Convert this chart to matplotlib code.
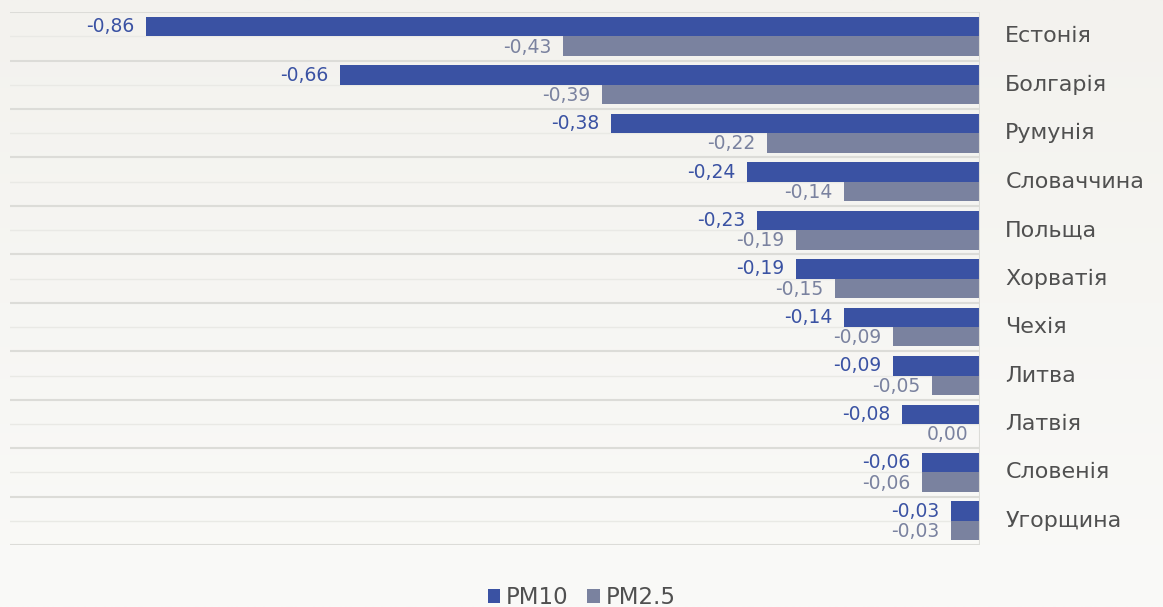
#!/usr/bin/env python3
"""Change in PM10 / PM2.5 by country, horizontal grouped bars with labels on the right."""

import matplotlib.pyplot as plt
import numpy as np

# -------- Data ------------------------------------------------------------ #

COUNTRIES = [
    "Естонія", "Болгарія", "Румунія", "Словаччина", "Польща", "Хорватія",
    "Чехія", "Литва", "Латвія", "Словенія", "Угорщина",
]
PM10 = [-0.86, -0.66, -0.38, -0.24, -0.23, -0.19, -0.14, -0.09, -0.08, -0.06, -0.03]
PM25 = [-0.43, -0.39, -0.22, -0.14, -0.19, -0.15, -0.09, -0.05, 0.00, -0.06, -0.03]

# -------- Style ----------------------------------------------------------- #

BG_TOP = np.array([0xF3, 0xF2, 0xEE]) / 255
BG_BOT = np.array([0xFA, 0xFA, 0xF8]) / 255
C_PM10 = "#3A52A3"
C_PM25 = "#7A829F"
GRID = "#DCDCD8"
TXT = "#505050"


def fmt(v: float) -> str:
    return f"{v:.2f}".replace(".", ",")


def main() -> None:
    plt.rcParams["font.family"] = "DejaVu Sans"

    fig = plt.figure(figsize=(11.63, 6.07), dpi=100)

    # soft vertical gradient behind everything
    bg = fig.add_axes([0, 0, 1, 1], zorder=-10)
    t = np.linspace(0, 1, 256)[:, None]
    grad = BG_TOP * (1 - t[..., None]) + BG_BOT * t[..., None]
    bg.imshow(np.repeat(grad, 2, axis=1), aspect="auto", extent=[0, 1, 0, 1])
    bg.axis("off")

    ax = fig.add_axes([0.0086, 0.102, 0.8341, 0.878])
    ax.patch.set_alpha(0)

    n = len(COUNTRIES)
    y = np.arange(n)
    h = 0.4
    ax.barh(y - h / 2, PM10, height=h, color=C_PM10, zorder=3, label="PM10")
    ax.barh(y + h / 2, PM25, height=h, color=C_PM25, zorder=3, label="PM2.5")

    ax.set_xlim(-1.0, 0.0)
    ax.set_ylim(n - 0.5, -0.5)

    # category separators and faint mid lines
    for b in np.arange(-0.5, n, 1.0):
        ax.axhline(b, color=GRID, lw=1.5, zorder=1)
    for m in y:
        ax.axhline(m, color="#E9E9E5", lw=1.0, zorder=1)
    ax.axvline(0, color=GRID, lw=1.5, zorder=4)

    for i in range(n):
        ax.text(PM10[i] - 0.012, i - h / 2, fmt(PM10[i]),
                ha="right", va="center", fontsize=13.5, color=C_PM10, zorder=5)
        ax.text(PM25[i] - 0.012, i + h / 2 + 0.02, fmt(PM25[i]),
                ha="right", va="center", fontsize=13.5, color=C_PM25, zorder=5)
        ax.text(1.026, i, COUNTRIES[i], transform=ax.get_yaxis_transform(),
                ha="left", va="center", fontsize=16, color=TXT, clip_on=False)

    ax.set_xticks([])
    ax.set_yticks([])
    for s in ax.spines.values():
        s.set_visible(False)

    fig.legend(loc="lower center", bbox_to_anchor=(0.5, -0.037), ncol=2,
               frameon=False, fontsize=16.5, labelcolor=TXT,
               handlelength=0.55, handleheight=0.55, handletextpad=0.25,
               columnspacing=0.8)

    fig.savefig("out.png", dpi=100)


if __name__ == "__main__":
    main()
